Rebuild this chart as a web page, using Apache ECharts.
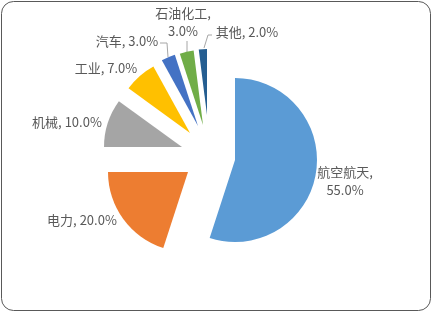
<!DOCTYPE html>
<html>
<head>
<meta charset="utf-8">
<script src="https://cdn.jsdelivr.net/npm/echarts@6/dist/echarts.min.js"></script>
<style>
html,body{margin:0;padding:0;background:#fff;}
#main{width:432px;height:313px;}
</style>
</head>
<body>
<div id="main"></div>
<script>
// ---- data ----
const categories = ['航空航天', '电力', '机械', '工业', '汽车', '石油化工', '其他'];
const values = [55, 20, 10, 7, 3, 3, 2];

// ---- styles / layout ----
const colors = ['#5B9BD5', '#ED7D31', '#A5A5A5', '#FFC000', '#4472C4', '#70AD47', '#255E91'];
const centers = [[235, 160], [188, 172], [182, 147], [190, 133], [198, 126], [203, 125], [207, 115]];
const radii = [82, 80, 78, 76, 75, 75, 66];
const labelPos = [[345, 181.5], [82, 220], [67, 122.5], [106, 68], [127, 41], [183, 22], [247, 32]];
const labelBreak = [true, false, false, false, false, true, false];
const leaderLines = [null, null, null, null,
  [[168, 57], [167, 43], [160, 43]],
  [[187, 53], [187, 41], [187, 41]],
  [[204, 48], [208, 35], [212, 35]]];

const total = values.reduce((a, b) => a + b, 0);
const hidden = { itemStyle: { color: 'transparent' }, label: { show: false }, labelLine: { show: false } };

const series = categories.map((name, i) => {
  const before = values.slice(0, i).reduce((a, b) => a + b, 0);
  const after = total - before - values[i];
  return {
    type: 'pie',
    center: centers[i],
    radius: radii[i],
    startAngle: 90,
    clockwise: true,
    silent: true,
    animation: false,
    avoidLabelOverlap: false,
    emphasis: { disabled: true },
    itemStyle: { borderWidth: 0 },
    data: [
      Object.assign({ value: before, name: '_b' + i }, hidden),
      {
        value: values[i], name: name,
        itemStyle: { color: colors[i] },
        label: {
          show: true,
          position: 'outside',
          color: '#595959',
          fontSize: 13,
          lineHeight: 18,
          fontFamily: '"Noto Sans CJK SC", sans-serif',
          formatter: () => name + ',' + (labelBreak[i] ? '\n' : ' ') + (values[i] / total * 100).toFixed(1) + '%'
        },
        labelLine: { show: !!leaderLines[i], lineStyle: { color: '#A6A6A6', width: 1 } }
      },
      Object.assign({ value: after, name: '_a' + i }, hidden)
    ],
    labelLayout: function (params) {
      const o = { x: labelPos[i][0], y: labelPos[i][1], align: 'center', verticalAlign: 'middle' };
      if (leaderLines[i]) o.labelLinePoints = leaderLines[i];
      return o;
    }
  };
});

const chart = echarts.init(document.getElementById('main'));
chart.setOption({
  animation: false,
  backgroundColor: '#fff',
  graphic: [{
    type: 'rect',
    shape: { x: 1.5, y: 1.5, width: 429, height: 309, r: 12 },
    style: { fill: 'none', stroke: '#595959', lineWidth: 1 },
    silent: true
  }],
  series: series
});
</script>
</body>
</html>
